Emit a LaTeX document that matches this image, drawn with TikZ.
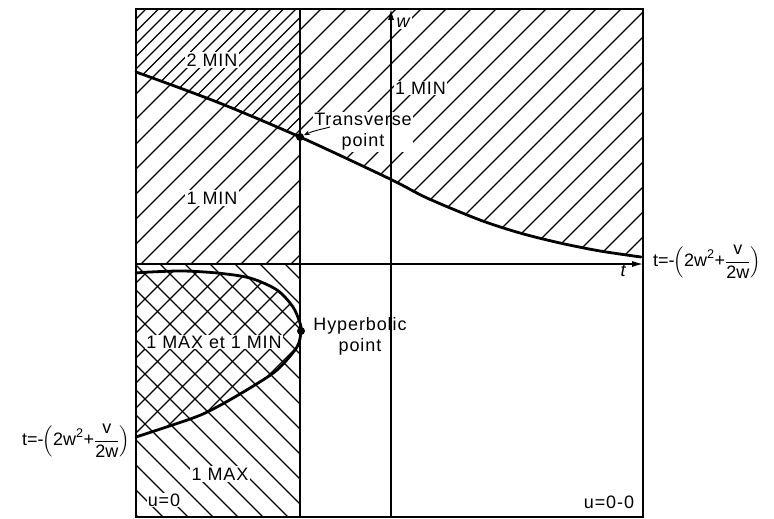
\documentclass[tikz,border=0pt]{standalone}
\usepackage{amsmath}
\usepackage{fontspec}
\setmainfont{Liberation Sans}[LetterSpace=5]
\usetikzlibrary{arrows.meta}
\tikzset{
  hatch/.style={line width=1.1pt},
  lbl/.style={font=\fontsize{18}{21}\selectfont, inner sep=2pt},
  lblw/.style={lbl, fill=white},
  curve/.style={line width=2.8pt, line join=round, line cap=round},
  frame/.style={line width=1.4pt},
  axis/.style={line width=1.2pt, -{Latex[length=11pt,width=6pt]}},
  dot/.style={circle, fill=black, inner sep=0pt, minimum size=8pt}
}
\newcommand{\tformula}{\addfontfeature{LetterSpace=0}t=-\hspace{-1pt}$\left(\text{2w}^{\text{2}}\text{+}\dfrac{\text{v}}{\text{2w}}\right)$}
\begin{document}
\begin{tikzpicture}[x=1pt,y=-1pt]
\useasboundingbox (0,0) rectangle (774,519);
% hatching top-left
\begin{scope}
  \clip (136,9) rectangle (300,264);
  \foreach \a in {130,155,...,620} \draw[hatch] (\a,0) -- ++(-320,320);
\end{scope}
% extra hatching 2 MIN
\begin{scope}
  \clip (136,9) -- (300,9) -- (300,137) -- plot[smooth] coordinates {(300,137) (217,102) (136,72)} -- cycle;
  \foreach \a in {142.5,167.5,...,620} \draw[hatch] (\a,0) -- ++(-320,320);
\end{scope}
% hatching top-right above curve
\begin{scope}
  \clip (300,9) -- (643,9) -- (643,257) -- plot[smooth] coordinates {(643,257) (600,251) (560,243) (520,233) (480,220) (427,198) (390,179) (300,137)} -- cycle;
  \foreach \a in {305,330,...,1000} \draw[hatch] (\a,0) -- ++(-400,400);
\end{scope}
% hatching lower-left
\begin{scope}
  \clip (136,264) rectangle (300,517);
  \foreach \a in {-140,-115,...,310} \draw[hatch] (\a,264) -- ++(300,300);
\end{scope}
% cross hatching inside fold
\begin{scope}
  \clip plot[smooth] coordinates {(136,437) (193,418) (217,407) (250,388) (277,370) (297,347) (301,331) (300,323) (293,307) (277,290) (250,278) (217,273) (183,271) (150,272) (136,273)} -- cycle;
  \foreach \a in {130,155,...,620} \draw[hatch] (\a,264) -- ++(-300,300);
\end{scope}
% labels
\node[lblw] (twomin) at (212,60) {2 MIN};
\node[lblw, anchor=west, inner sep=1pt] (onemina) at (394,88) {1 MIN};
\node[lblw] (oneminb) at (212,198) {1 MIN};
\node[lblw, align=center, inner sep=1pt] (trans) at (363,132) {Transverse\\point};
\node[lbl, align=center] (hyp) at (360,336) {Hyperbolic\\point};
\node[lblw, inner sep=1pt] (maxmin) at (214,342) {1 MAX et 1 MIN};
\node[lblw] (onemax) at (220,474) {1 MAX};
\node[lblw, inner sep=1pt] (u0) at (164,500) {u=0};
\node[lbl] (u00) at (609,502) {u=0-0};
\node[lbl, anchor=west, inner sep=0pt] (formr) at (653,262) {\tformula};
\node[lbl, anchor=east, inner sep=0pt] (forml) at (130,441) {\tformula};
\node[lbl] (tlab) at (624,271) {\textit{t}};
\node[lblw, inner sep=1pt] (wlab) at (404,23) {\textit{w}};
% frame and lines
\coordinate (tl) at (136,9);
\coordinate (br) at (643,517);
\draw[frame] (tl) rectangle (br);
\coordinate (vt) at (300,9);
\coordinate (vb) at (300,517);
\draw[frame] (vt) -- (vb);
\coordinate (wb) at (391,517);
\coordinate (wt) at (391,9);
\draw[axis] (wb) -- (wt);
\coordinate (tlft) at (136,264);
\coordinate (trgt) at (643,264);
\draw[axis] (tlft) -- (trgt);
% curves
\draw[curve] plot[smooth] coordinates {(136,72) (217,102) (300,137) (390,179) (427,198) (480,220) (520,233) (560,243) (600,251) (641,257)};
\draw[curve] plot[smooth] coordinates {(136,437) (193,418) (217,407) (250,388) (277,370) (297,347) (301,331) (300,323) (293,307) (277,290) (250,278) (217,273) (183,271) (150,272) (136,273)};
% points
\node[dot] (tp) at (300,137) {};
\node[dot] (hp) at (301,331) {};
\coordinate (tarr) at (330,127);
\draw[line width=0.9pt, -{Stealth[length=6pt,width=4.5pt]}] (tarr) to[out=195,in=25] (tp);
\end{tikzpicture}
\end{document}
